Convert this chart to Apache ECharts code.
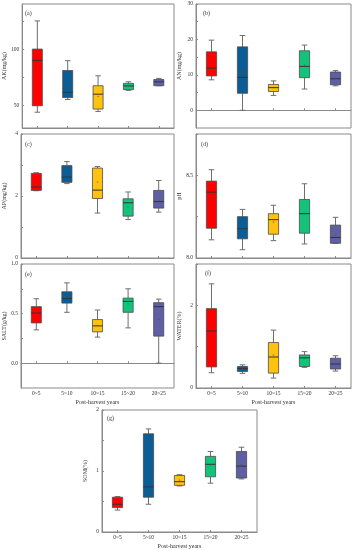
<!DOCTYPE html>
<html>
<head>
<meta charset="utf-8">
<script src="https://cdn.jsdelivr.net/npm/echarts@6/dist/echarts.min.js"></script>
<style>
html,body{margin:0;padding:0;background:#fff;}
#chart{width:355px;height:550px;}
</style>
</head>
<body>
<div id="chart"></div>
<script>
// ---- data ----
const categories = ['0~5', '5~10', '10~15', '15~20', '20~25'];
const boxColors = ['#FF0000', '#0B5D95', '#FFC20E', '#12C47A', '#5F5FA5'];

// each box: [min, q1, median, q3, max]
const akBox = [[44, 49.7, 90, 100, 125], [55.3, 57, 61.7, 81, 89.7], [44.7, 46.8, 60, 67.5, 76.3], [63.4, 64, 67.3, 69.6, 71], [67.5, 67.5, 71, 73, 74]];
const akMean = [84.5, 66, 58, 67, 71];
const anBox = [[8.6, 9.7, 11.9, 16.5, 19.8], [0, 4.8, 9.3, 17.9, 21.1], [4.2, 5.3, 6.4, 7.3, 8.3], [6.0, 9.2, 12.4, 16.8, 18.4], [6.9, 7.2, 8.9, 10.8, 11.2]];
const anMean = [13.5, 10.9, 6.4, 12.8, 9.0];
const apBox = [[2.17, 2.18, 2.29, 2.73, 2.75], [2.40, 2.44, 2.61, 2.98, 3.11], [1.45, 1.92, 2.19, 2.90, 2.95], [1.24, 1.35, 1.78, 1.91, 2.13], [1.48, 1.61, 1.82, 2.18, 2.50]];
const apMean = [2.4, 2.7, 2.45, 1.65, 1.85];
const phBox = [[8.11, 8.18, 8.398, 8.465, 8.534], [8.05, 8.116, 8.177, 8.25, 8.294], [8.105, 8.144, 8.232, 8.268, 8.319], [8.085, 8.15, 8.268, 8.354, 8.449], [8.089, 8.089, 8.124, 8.199, 8.246]];
const phMean = [8.36, 8.18, 8.217, 8.27, 8.14];
const saltBox = [[0.336, 0.406, 0.506, 0.57, 0.65], [0.513, 0.606, 0.65, 0.72, 0.81], [0.263, 0.316, 0.376, 0.44, 0.536], [0.356, 0.513, 0.623, 0.656, 0.75], [0.0, 0.273, 0.57, 0.61, 0.646]];
const saltMean = [0.5, 0.67, 0.38, 0.6, 0.44];
const waterBox = [[0.37, 0.51, 1.38, 1.92, 2.52], [0.355, 0.40, 0.47, 0.52, 0.56], [0.24, 0.36, 0.75, 1.10, 1.40], [0.50, 0.52, 0.73, 0.80, 0.88], [0.41, 0.46, 0.58, 0.72, 0.78]];
const waterMean = [1.3, 0.47, 0.8, 0.72, 0.6];
const somBox = [[0.36, 0.40, 0.455, 0.57, 0.58], [0.455, 0.57, 0.74, 1.61, 1.69], [0.755, 0.765, 0.825, 0.926, 0.94], [0.80, 0.905, 1.11, 1.24, 1.32], [0.87, 0.885, 1.08, 1.32, 1.39]];
const somMean = [0.47, 0.94, 0.85, 1.1, 1.1];

// axis ticks / labels
const akTicks = [50, 75, 100, 125], akLabels = [50, 100];
const anTicks = [0, 5, 10, 15, 20, 25, 30], anLabels = [0, 10, 20, 30];
const apTicks = [0, 1, 2, 3, 4], apLabels = [0, 2, 4];
const phTicks = [8.0, 8.25, 8.5, 8.75], phLabels = [8.0, 8.5];
const saltTicks = [0, 0.25, 0.5, 0.75, 1.0], saltLabels = [0, 0.5, 1.0];
const waterTicks = [0, 1, 2, 3], waterLabels = [0, 2];
const somTicks = [0, 0.5, 1, 1.5, 2], somLabels = [0, 1, 2];

const yNames = ['AK(mg/kg)', 'AN(mg/kg)', 'AP(mg/kg)', 'pH', 'SALT(g/kg)', 'WATER(%)', 'SOM(%)'];
const panelNames = ['(a)', '(b)', '(c)', '(d)', '(e)', '(f)', '(g)'];
const xTitle = 'Post-harvest years';

// ---- layout ----
const FONT = 'Liberation Serif';
const AXC = '#8a8a8a';
const panels = [
  {box: akBox, mean: akMean, min: 30, max: 140, ticks: akTicks, labels: akLabels, dec: 0, grid: {left: 20, top: 4, width: 154, height: 124}, showX: false, lab: [25, 10]},
  {box: anBox, mean: anMean, min: -5, max: 30, ticks: anTicks, labels: anLabels, dec: 0, grid: {left: 196, top: 4, width: 155, height: 124}, showX: false, lab: [203, 10]},
  {box: apBox, mean: apMean, min: 0, max: 4, ticks: apTicks, labels: apLabels, dec: 0, grid: {left: 20, top: 134, width: 154, height: 124}, showX: false, lab: [25, 141]},
  {box: phBox, mean: phMean, min: 8.0, max: 8.75, ticks: phTicks, labels: phLabels, dec: 1, grid: {left: 196, top: 134, width: 155, height: 124}, showX: false, lab: [201, 141]},
  {box: saltBox, mean: saltMean, min: -0.25, max: 1.0, ticks: saltTicks, labels: saltLabels, dec: 1, grid: {left: 20, top: 264, width: 154, height: 124}, showX: true, lab: [25, 271]},
  {box: waterBox, mean: waterMean, min: 0, max: 3, ticks: waterTicks, labels: waterLabels, dec: 0, grid: {left: 196, top: 264, width: 155, height: 124}, showX: true, lab: [205, 270]},
  {box: somBox, mean: somMean, min: 0, max: 2, ticks: somTicks, labels: somLabels, dec: 0, grid: {left: 102, top: 410, width: 155, height: 124}, showX: true, lab: [107, 415]}
];

function renderBox(params, api) {
  const idx = api.value(0);
  const vMin = api.value(1), q1 = api.value(2), med = api.value(3), q3 = api.value(4), vMax = api.value(5), mean = api.value(6);
  const xc = api.coord([idx, med])[0];
  const band = api.size([1, 0])[0];
  const bw = band * 0.33, cw = band * 0.18;
  const y = v => api.coord([idx, v])[1];
  const color = boxColors[idx];
  const wl = {stroke: '#6e6e6e', lineWidth: 1};
  return {
    type: 'group',
    children: [
      {type: 'line', shape: {x1: xc, y1: y(q3), x2: xc, y2: y(vMax)}, style: wl},
      {type: 'line', shape: {x1: xc, y1: y(q1), x2: xc, y2: y(vMin)}, style: wl},
      {type: 'line', shape: {x1: xc - cw / 2, y1: y(vMax), x2: xc + cw / 2, y2: y(vMax)}, style: wl},
      {type: 'line', shape: {x1: xc - cw / 2, y1: y(vMin), x2: xc + cw / 2, y2: y(vMin)}, style: wl},
      {type: 'rect', shape: {x: xc - bw / 2, y: y(q3), width: bw, height: y(q1) - y(q3)}, style: {fill: color, stroke: '#4a4a4a', lineWidth: 0.8}},
      {type: 'line', shape: {x1: xc - bw / 2, y1: y(med), x2: xc + bw / 2, y2: y(med)}, style: {stroke: '#333', lineWidth: 1}},
      {type: 'circle', shape: {cx: xc, cy: y(mean), r: 0.8}, style: {fill: 'rgba(80,80,80,0.6)'}}
    ]
  };
}

const grids = [], xAxes = [], yAxes = [], series = [], titles = [];
panels.forEach((p, i) => {
  grids.push(Object.assign({show: true, borderColor: AXC, borderWidth: 1, containLabel: false}, p.grid));
  xAxes.push({
    gridIndex: i, type: 'category', data: categories, boundaryGap: true,
    axisLine: {show: true, lineStyle: {color: AXC, width: 1}},
    axisTick: {show: true, inside: true, alignWithLabel: true, length: 2, lineStyle: {color: AXC}},
    axisLabel: {show: p.showX, fontSize: 5.5, margin: 3, color: '#333', fontFamily: FONT},
    name: p.showX ? xTitle : '', nameLocation: 'middle', nameGap: 11,
    nameTextStyle: {fontSize: 6, color: '#333', fontFamily: FONT},
    splitLine: {show: false}
  });
  yAxes.push({
    gridIndex: i, type: 'value', min: p.min, max: p.max,
    axisLine: {show: true, lineStyle: {color: AXC, width: 1}},
    axisTick: {show: true, inside: true, length: 2, customValues: p.ticks, lineStyle: {color: AXC}},
    axisLabel: {show: true, customValues: p.labels, fontSize: 5.5, margin: 3, color: '#333', fontFamily: FONT,
      formatter: v => Number(v).toFixed(p.dec)},
    splitLine: {show: false},
    name: yNames[i], nameLocation: 'middle', nameGap: 14,
    nameTextStyle: {fontSize: 6, color: '#333', fontFamily: FONT}
  });
  series.push({
    type: 'custom', xAxisIndex: i, yAxisIndex: i,
    renderItem: renderBox,
    encode: {x: 0, y: [1, 2, 3, 4, 5, 6]},
    data: p.box.map((b, k) => [k, b[0], b[1], b[2], b[3], b[4], p.mean[k]]),
    silent: true
  });
  titles.push({text: panelNames[i], left: p.lab[0], top: p.lab[1], padding: 0,
    textStyle: {fontSize: 6, fontWeight: 'normal', color: '#333', fontFamily: FONT}});
});

const chart = echarts.init(document.getElementById('chart'), null, {renderer: 'canvas'});
chart.setOption({
  animation: false,
  backgroundColor: '#fff',
  title: titles,
  grid: grids,
  xAxis: xAxes,
  yAxis: yAxes,
  series: series
});
</script>
</body>
</html>
